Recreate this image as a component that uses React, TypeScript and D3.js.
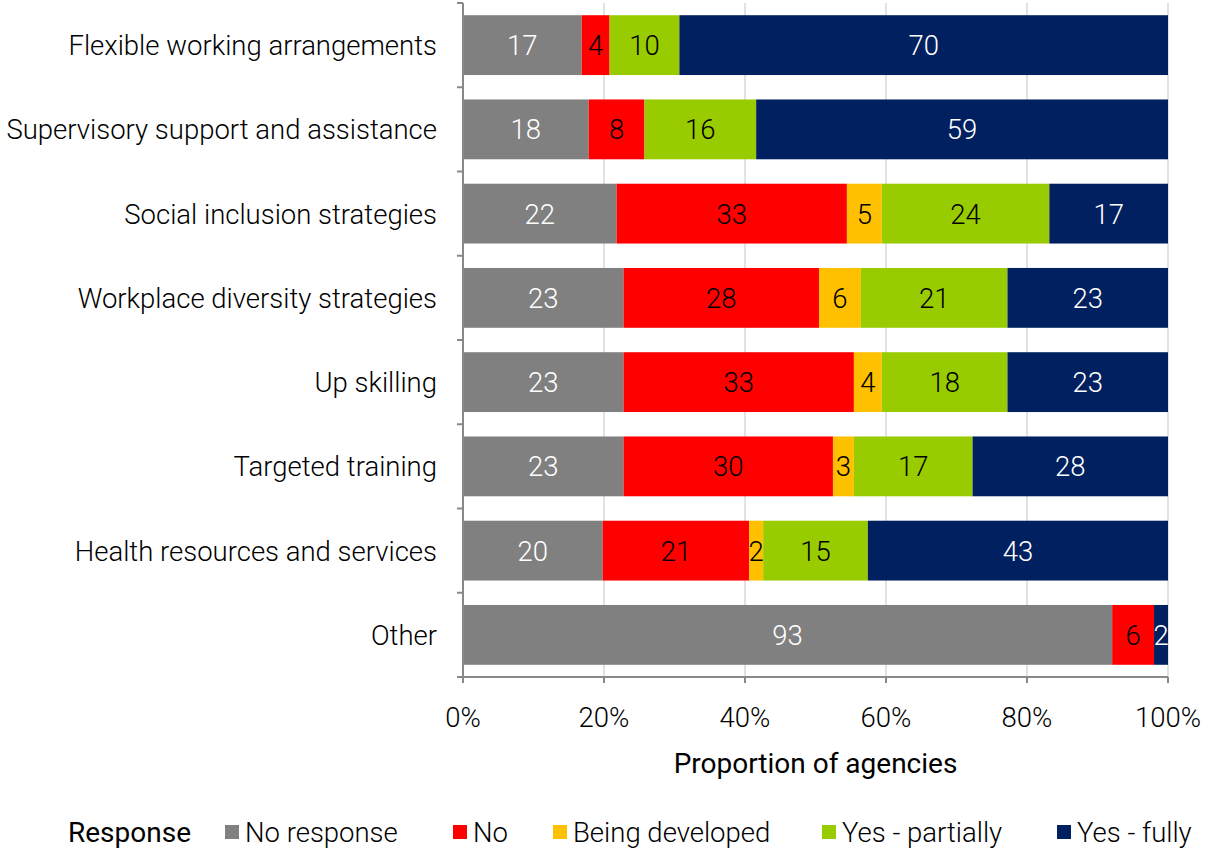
import * as d3 from "d3";

const categories = [
  "Flexible working arrangements",
  "Supervisory support and assistance",
  "Social inclusion strategies",
  "Workplace diversity strategies",
  "Up skilling",
  "Targeted training",
  "Health resources and services",
  "Other",
];

const seriesNames = ["No response", "No", "Being developed", "Yes - partially", "Yes - fully"];
const seriesColors = ["#808080", "#ff0000", "#ffc000", "#99cc00", "#002060"];
const labelColors = ["#ffffff", "#000000", "#000000", "#000000", "#ffffff"];

// values per category, in series order
const noResponse = [17, 18, 22, 23, 23, 23, 20, 93];
const no = [4, 8, 33, 28, 33, 30, 21, 6];
const beingDeveloped = [0, 0, 5, 6, 4, 3, 2, 0];
const yesPartially = [10, 16, 24, 21, 18, 17, 15, 0];
const yesFully = [70, 59, 17, 23, 23, 28, 43, 2];

const xTicks = [0, 0.2, 0.4, 0.6, 0.8, 1];

const W = 1207;
const H = 850;
const FONT = "Roboto, 'Liberation Sans', sans-serif";
const FS = 27.5;

export default function App() {
  const left = 463;
  const right = 1168;
  const top = 3;
  const bottom = 677;

  const rows = categories.map((c, i) => {
    const vals = [noResponse[i], no[i], beingDeveloped[i], yesPartially[i], yesFully[i]];
    const total = d3.sum(vals);
    let acc = 0;
    const segs = vals.map((v, k) => {
      const s = { k, v, x0: acc / total, x1: (acc + v) / total };
      acc += v;
      return s;
    });
    return { c, segs };
  });

  const x = d3.scaleLinear().domain([0, 1]).range([left, right]);
  const y = d3
    .scaleBand<string>()
    .domain(categories)
    .range([top, bottom])
    .paddingInner(0.29)
    .paddingOuter(0.145);
  const step = y.step();

  const legendX = [225, 453, 553, 822, 1057];

  return (
    <svg width={W} height={H} style={{ position: "absolute", left: 0, top: 0 }} fontFamily={FONT}>
      <rect width={W} height={H} fill="#fff" />
      {/* grid */}
      {xTicks.slice(1).map((t) => (
        <line key={t} x1={x(t)} x2={x(t)} y1={top} y2={bottom} stroke="#d9d9d9" strokeWidth={1.5} />
      ))}
      {/* bars */}
      {rows.map((r) => (
        <g key={r.c}>
          {r.segs
            .filter((s) => s.v > 0)
            .map((s) => (
              <rect
                key={s.k}
                x={x(s.x0)}
                y={y(r.c)}
                width={x(s.x1) - x(s.x0)}
                height={y.bandwidth()}
                fill={seriesColors[s.k]}
              />
            ))}
          {r.segs
            .filter((s) => s.v > 0)
            .map((s) => (
              <text
                key={"t" + s.k}
                x={(x(s.x0) + x(s.x1)) / 2}
                y={(y(r.c) ?? 0) + y.bandwidth() / 2}
                dy="0.36em"
                textAnchor="middle"
                fontSize={FS}
                fontWeight={300}
                fill={labelColors[s.k]}
              >
                {s.v}
              </text>
            ))}
          <text
            x={437}
            y={(y(r.c) ?? 0) + y.bandwidth() / 2}
            dy="0.36em"
            textAnchor="end"
            fontSize={FS}
            fontWeight={300}
            fill="#000"
          >
            {r.c}
          </text>
        </g>
      ))}
      {/* y axis */}
      <line x1={left} x2={left} y1={top} y2={bottom} stroke="#888" strokeWidth={2} />
      {d3.range(categories.length + 1).map((i) => (
        <line key={i} x1={left - 6} x2={left} y1={top + i * step} y2={top + i * step} stroke="#888" strokeWidth={2} />
      ))}
      {/* x axis */}
      <line x1={left} x2={right} y1={bottom} y2={bottom} stroke="#888" strokeWidth={2} />
      {xTicks.map((t) => (
        <g key={t}>
          <line x1={x(t)} x2={x(t)} y1={bottom} y2={bottom + 6} stroke="#888" strokeWidth={2} />
          <text x={x(t)} y={717} dy="0.36em" textAnchor="middle" fontSize={FS} fontWeight={300}>
            {d3.format(".0%")(t)}
          </text>
        </g>
      ))}
      <text x={(left + right) / 2} y={763} dy="0.36em" textAnchor="middle" fontSize={28} fontWeight={400}>
        Proportion of agencies
      </text>
      {/* legend */}
      <text x={68} y={832} dy="0.36em" fontSize={28} fontWeight={400}>
        Response
      </text>
      {seriesNames.map((n, k) => (
        <g key={n}>
          <rect x={legendX[k]} y={825} width={14} height={14} fill={seriesColors[k]} />
          <text x={legendX[k] + 20} y={832} dy="0.36em" fontSize={FS} fontWeight={300}>
            {n}
          </text>
        </g>
      ))}
    </svg>
  );
}
